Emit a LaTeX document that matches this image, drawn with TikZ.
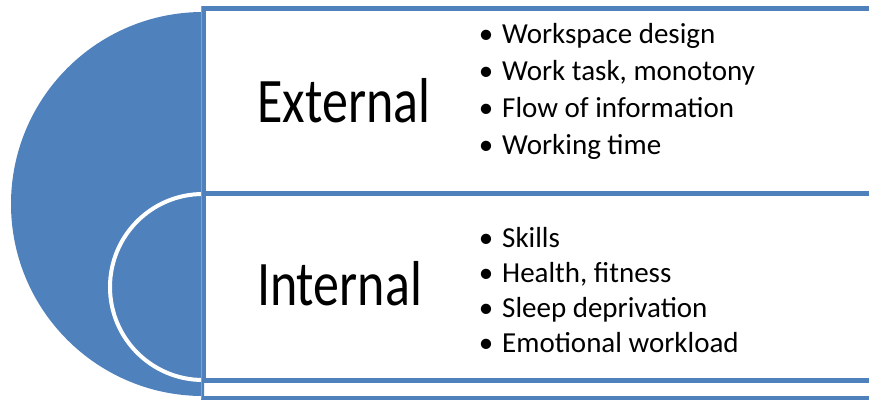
\documentclass[tikz,border=0pt]{standalone}
\usepackage{fontspec}
\setmainfont{Carlito}
\definecolor{accblue}{HTML}{4F81BD}
\definecolor{edgeblue}{HTML}{7FA2D0}
\tikzset{
  panel/.style={draw=accblue, line width=5pt, fill=white},
  bigword/.style={anchor=base, inner sep=0pt, font=\fontsize{52}{60}\selectfont},
  bulletmark/.style={anchor=base, inner sep=0pt, font=\fontsize{29}{35}\selectfont},
  itemtext/.style={anchor=base west, inner sep=0pt, font=\fontsize{29}{35}\selectfont},
}
\newcommand\listitem[3]{%
  \node[bulletmark] (#1b) at (486,#2) {•};
  \node[itemtext] (#1t) at (502,#2) {#3};
}
\begin{document}
\begin{tikzpicture}[x=1pt,y=-1pt]
\useasboundingbox (0,0) rectangle (869,399);
\clip (0,0) rectangle (869,399);
% left half circles
\begin{scope}
\clip (0,0) rectangle (204,399);
\fill[accblue] (203,204) circle[radius=192];
\draw[fill=accblue, draw=white, line width=4pt] (203,287) circle[radius=93];
\end{scope}
% panels
\draw[panel] (203.5,8.5) rectangle (920,193.5);
\draw[panel] (203.5,193.5) rectangle (920,380.5);
\draw[panel] (203.5,398.5) rectangle (920,480);
\draw[edgeblue, line width=0.8pt] (201.3,6) -- (201.3,399);
% headings
\node[bigword] (ext) at (344,122) {\scalebox{1}[1.22]{External}};
\node[bigword] (int) at (339.5,305) {\scalebox{1}[1.22]{Internal}};
% external list
\listitem{e1}{43}{Workspace design}
\listitem{e2}{80}{Work task, monotony}
\listitem{e3}{117}{Flow of information}
\listitem{e4}{154}{Working time}
% internal list
\listitem{i1}{247}{Skills}
\listitem{i2}{282}{Health, fitness}
\listitem{i3}{317}{Sleep deprivation}
\listitem{i4}{352}{Emotional workload}
\end{tikzpicture}
\end{document}
